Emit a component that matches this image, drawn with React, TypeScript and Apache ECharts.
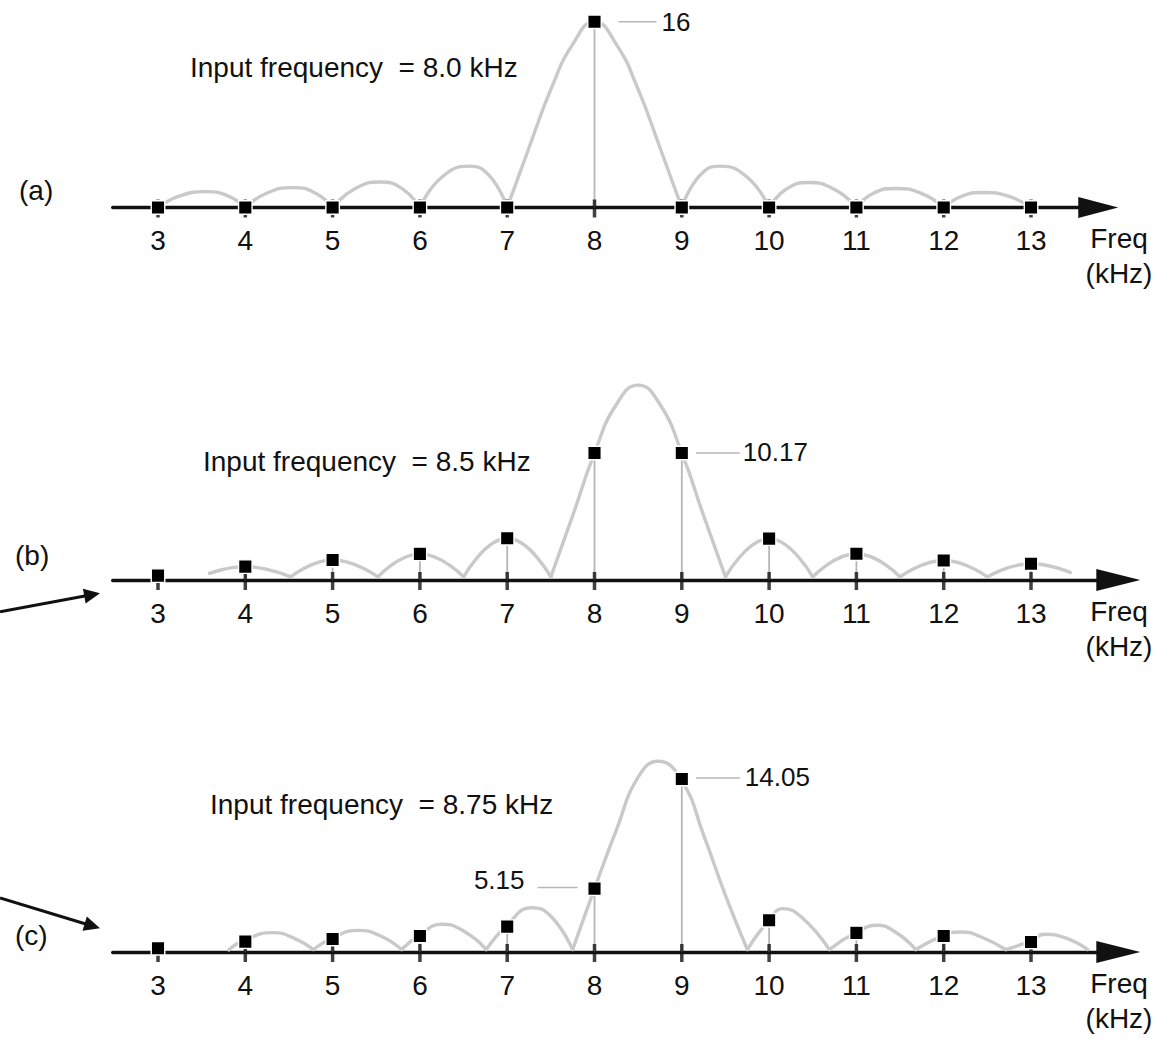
import React, { useEffect, useRef } from "react";
import * as echarts from "echarts";

// ---------------- data ----------------
const FREQ_BINS = [3, 4, 5, 6, 7, 8, 9, 10, 11, 12, 13];
const PANEL_TAGS = ["(a)", "(b)", "(c)"];
const INPUT_TEXT = [
  "Input frequency  = 8.0 kHz",
  "Input frequency  = 8.5 kHz",
  "Input frequency  = 8.75 kHz",
];
const AXIS_NAME = ["Freq", "(kHz)"];

// DFT magnitudes at the integer bins
const DFT_A = [0, 0, 0, 0, 0, 16, 0, 0, 0, 0, 0];
const DFT_B = [0.35, 1.07, 1.6, 2.09, 3.34, 10.17, 10.17, 3.31, 2.1, 1.56, 1.3];
const DFT_C = [0.3, 0.84, 1.06, 1.3, 2.06, 5.15, 14.05, 2.58, 1.55, 1.3, 0.81];

// continuous spectrum, one list of [kHz, magnitude] per lobe
const CURVE_A = [
  [[3, 0], [3.25, 1.0], [3.55, 1.37], [3.8, 1.0], [4, 0]],
  [[4, 0], [4.25, 1.25], [4.55, 1.71], [4.8, 1.25], [5, 0]],
  [[5, 0], [5.25, 1.6], [5.55, 2.2], [5.8, 1.6], [6, 0]],
  [[6, 0], [6.25, 2.6], [6.57, 3.56], [6.8, 2.7], [7, 0]],
  [[7, 0], [7.25, 5.15], [7.5, 10.17], [7.75, 14.05], [8, 16], [8.25, 14.05], [8.5, 10.17], [8.75, 5.15], [9, 0]],
  [[9, 0], [9.2, 2.7], [9.43, 3.56], [9.75, 2.6], [10, 0]],
  [[10, 0], [10.2, 1.6], [10.45, 2.15], [10.75, 1.55], [11, 0]],
  [[11, 0], [11.2, 1.25], [11.45, 1.64], [11.75, 1.2], [12, 0]],
  [[12, 0], [12.2, 0.95], [12.45, 1.29], [12.75, 0.95], [13, 0]],
];
const CURVE_B = [
  [[3.59, 0.53], [4, 1.07], [4.52, 0.25]],
  [[4.52, 0.25], [5, 1.6], [5.52, 0.25]],
  [[5.52, 0.25], [6, 2.09], [6.5, 0.25]],
  [[6.5, 0.25], [7, 3.34], [7.5, 0.25]],
  [[7.5, 0.25], [7.75, 5.15], [8, 10.17], [8.25, 14.05], [8.5, 15.6], [8.75, 14.05], [9, 10.17], [9.25, 5.15], [9.5, 0.25]],
  [[9.5, 0.25], [10, 3.31], [10.5, 0.25]],
  [[10.5, 0.25], [11, 2.1], [11.5, 0.25]],
  [[11.5, 0.25], [12, 1.56], [12.5, 0.25]],
  [[12.5, 0.25], [13, 1.3], [13.45, 0.6]],
];
const CURVE_C = [
  [[3.81, 0.17], [4, 1.0], [4.32, 1.57], [4.55, 1.15], [4.78, 0.2]],
  [[4.78, 0.2], [5, 1.15], [5.29, 1.76], [5.55, 1.3], [5.79, 0.2]],
  [[5.79, 0.2], [6, 1.4], [6.25, 2.25], [6.5, 1.7], [6.76, 0.2]],
  [[6.76, 0.2], [7, 2.2], [7.28, 3.6], [7.5, 2.9], [7.75, 0.2]],
  [[7.75, 0.2], [8, 5.15], [8.25, 9.9], [8.5, 14.2], [8.73, 15.5], [9, 13.9], [9.25, 9.5], [9.5, 4.6], [9.75, 0.2]],
  [[9.75, 0.2], [10, 2.6], [10.16, 3.52], [10.37, 2.84], [10.69, 0.2]],
  [[10.69, 0.2], [11, 1.6], [11.24, 2.17], [11.45, 1.6], [11.68, 0.2]],
  [[11.68, 0.2], [12, 1.35], [12.2, 1.63], [12.43, 1.22], [12.71, 0.2]],
  [[12.71, 0.2], [13, 0.9], [13.15, 1.44], [13.36, 1.22], [13.65, 0.2]],
];

// labelled bins: panel index, bin frequency
const CALLOUT_PANEL = [0, 1, 2, 2];
const CALLOUT_BIN = [8, 9, 9, 8];

// ---------------- layout / style ----------------
const PANELS = [DFT_A, DFT_B, DFT_C];
const CURVES = [CURVE_A, CURVE_B, CURVE_C];
const AXIS_Y = [207.5, 580, 952];
const UNIT_PX = [11.61, 12.49, 12.31];
const Y_MAX = 17;
const X_MIN = 2.481;
const PX_PER_KHZ = 87.3;
const AXIS_LEFT = 112.7;
const X_END = [13.77, 14.0, 14.0];
const ARROW_SIZE = [
  [21, 40],
  [22, 44],
  [22, 44],
];
const FONT = '"Liberation Sans", Arial, Helvetica, sans-serif';
const INK = "#111111";
const CURVE_GRAY = "#c9c9c9";
const STEM_GRAY = "#b6b6b6";

const TEXT_POS = [
  [190, 67],
  [203, 461],
  [210, 804],
];
const TAG_POS = [
  [19, 190],
  [15, 555],
  [15, 935],
];
// callout geometry relative to marker pixel: [lineStart, lineEnd, textX, dy(line), dy(text), align]
const CALLOUT_GEOM: any[] = [
  [24, 62, 67, 0, 0, "left"],
  [14, 58, 61, 0, -1, "left"],
  [14, 58, 63, -1, -2, "left"],
  [-57, -17, -70, -1, -9, "right"],
];

function arrowGraphic(x0: number, y0: number, x1: number, y1: number) {
  const dx = x1 - x0;
  const dy = y1 - y0;
  const len = Math.sqrt(dx * dx + dy * dy);
  const ux = dx / len;
  const uy = dy / len;
  const nx = -uy;
  const ny = ux;
  const hl = 16;
  const hw = 7.5;
  const bx = x1 - hl * ux;
  const by = y1 - hl * uy;
  return [
    {
      type: "line",
      shape: { x1: x0, y1: y0, x2: bx + 2 * ux, y2: by + 2 * uy },
      style: { stroke: INK, lineWidth: 3 },
    },
    {
      type: "polygon",
      shape: {
        points: [
          [x1, y1],
          [bx + hw * nx, by + hw * ny],
          [bx - hw * nx, by - hw * ny],
        ],
      },
      style: { fill: INK },
    },
  ];
}

export default function App() {
  const ref = useRef<HTMLDivElement>(null);

  useEffect(() => {
    if (!ref.current) return;
    const chart = echarts.init(ref.current, null, { renderer: "svg" });

    const grid = AXIS_Y.map((ay, i) => {
      const width = (X_END[i] - X_MIN) * PX_PER_KHZ;
      return {
        left: AXIS_LEFT,
        width,
        top: ay - Y_MAX * UNIT_PX[i],
        height: Y_MAX * UNIT_PX[i],
        outerBoundsMode: "none",
        containLabel: false,
      };
    });

    const xAxis = AXIS_Y.map((_, i) => ({
      type: "value",
      gridIndex: i,
      min: X_MIN,
      max: X_END[i],
      axisLine: {
        show: true,
        onZero: false,
        lineStyle: { color: INK, width: 3.3 },
        symbol: ["none", "triangle"],
        symbolSize: ARROW_SIZE[i],
      },
      axisTick: { show: false },
      splitLine: { show: false },
      axisLabel: {
        customValues: FREQ_BINS,
        fontSize: 28,
        fontFamily: FONT,
        color: INK,
        margin: 19,
      },
    }));

    const yAxis = AXIS_Y.map((_, i) => ({
      type: "value",
      gridIndex: i,
      min: 0,
      max: Y_MAX,
      show: false,
    }));

    const series: any[] = [];
    PANELS.forEach((dft, i) => {
      CURVES[i].forEach((lobe) => {
        series.push({
          type: "line",
          xAxisIndex: i,
          yAxisIndex: i,
          data: lobe,
          smooth: 0.5,
          showSymbol: false,
          silent: true,
          lineStyle: { color: CURVE_GRAY, width: 3.4, cap: "round" },
          z: 2,
        });
      });
      series.push({
        type: "bar",
        xAxisIndex: i,
        yAxisIndex: i,
        data: FREQ_BINS.map((f, k) => [f, dft[k]]),
        barWidth: 1.8,
        silent: true,
        itemStyle: { color: STEM_GRAY },
        z: 3,
      });
      series.push({
        type: "scatter",
        xAxisIndex: i,
        yAxisIndex: i,
        data: FREQ_BINS.map((f) => [f, 0]),
        symbol: "rect",
        symbolSize: [3.5, 18],
        symbolOffset: [0, 1],
        silent: true,
        itemStyle: { color: INK },
        z: 4,
      });
      series.push({
        type: "scatter",
        xAxisIndex: i,
        yAxisIndex: i,
        data: FREQ_BINS.map((f, k) => [f, dft[k]]),
        symbol: "rect",
        symbolSize: 13.5,
        silent: true,
        itemStyle: { color: "#000000", borderColor: "#ffffff", borderWidth: 1.4, opacity: 1 },
        z: 5,
      });
    });

    chart.setOption({
      animation: false,
      grid,
      xAxis,
      yAxis,
      series,
    });

    const graphic: any[] = [];
    INPUT_TEXT.forEach((t, i) => {
      graphic.push({
        type: "text",
        x: TEXT_POS[i][0],
        y: TEXT_POS[i][1],
        style: { text: t, font: `28px ${FONT}`, fill: INK, align: "left", verticalAlign: "middle" },
      });
      graphic.push({
        type: "text",
        x: TAG_POS[i][0],
        y: TAG_POS[i][1],
        style: { text: PANEL_TAGS[i], font: `28px ${FONT}`, fill: INK, align: "left", verticalAlign: "middle" },
      });
      graphic.push({
        type: "text",
        x: 1119,
        y: AXIS_Y[i] + 31,
        style: { text: AXIS_NAME[0], font: `28px ${FONT}`, fill: INK, align: "center", verticalAlign: "middle" },
      });
      graphic.push({
        type: "text",
        x: 1119,
        y: AXIS_Y[i] + 66,
        style: { text: AXIS_NAME[1], font: `28px ${FONT}`, fill: INK, align: "center", verticalAlign: "middle" },
      });
    });

    CALLOUT_PANEL.forEach((p, j) => {
      const k = FREQ_BINS.indexOf(CALLOUT_BIN[j]);
      const v = PANELS[p][k];
      const px = chart.convertToPixel({ gridIndex: p } as any, [CALLOUT_BIN[j], v]) as number[];
      const g = CALLOUT_GEOM[j];
      graphic.push({
        type: "line",
        shape: { x1: px[0] + g[0], y1: px[1] + g[3], x2: px[0] + g[1], y2: px[1] + g[3] },
        style: { stroke: STEM_GRAY, lineWidth: 1.5 },
      });
      graphic.push({
        type: "text",
        x: px[0] + g[2],
        y: px[1] + g[4],
        style: { text: String(v), font: `26px ${FONT}`, fill: INK, align: g[5], verticalAlign: "middle" },
      });
    });

    graphic.push(...arrowGraphic(0, 611.7, 100, 593.3));
    graphic.push(...arrowGraphic(0, 898, 100, 928.3));

    chart.setOption({ graphic });

    return () => chart.dispose();
  }, []);

  return (
    <div
      ref={ref}
      style={{ position: "absolute", left: 0, top: 0, width: 1171, height: 1039, background: "#ffffff" }}
    />
  );
}
